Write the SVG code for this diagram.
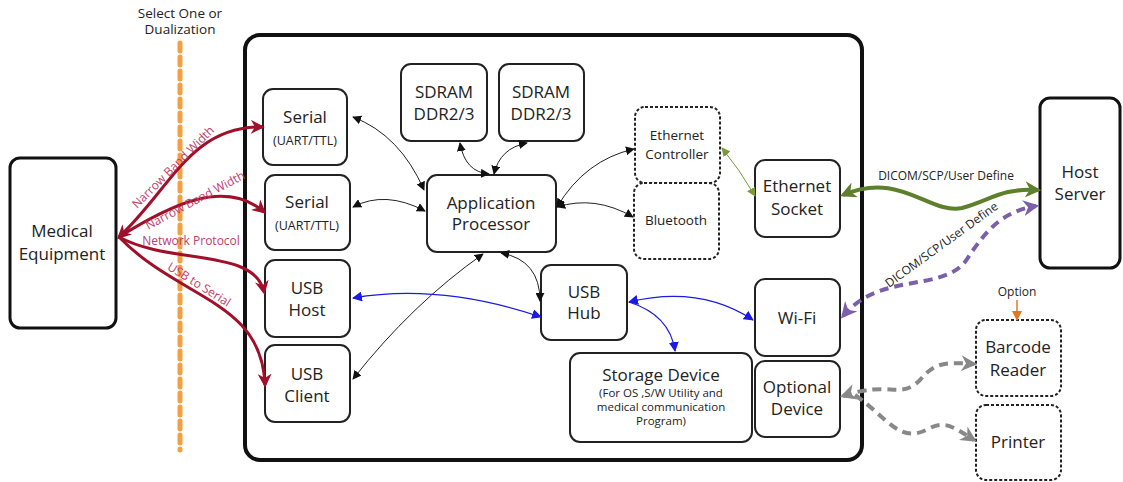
<svg xmlns="http://www.w3.org/2000/svg" width="1123" height="482" viewBox="0 0 1123 482">
<style>
text{font-family:"Open Sans","Noto Sans","Liberation Sans",sans-serif;fill:#222;text-anchor:middle}
.n{fill:#fff;stroke:#222;stroke-width:2}
.d{fill:#fff;stroke:#222;stroke-width:2;stroke-dasharray:3 2}
.t16{font-size:17px}
.t12{font-size:12.5px}
.t11{font-size:11.5px}
.t13{font-size:13.5px}
.blk{fill:none;stroke:#222;stroke-width:1}
.blu{fill:none;stroke:#1a1ae0;stroke-width:1.3}
.red{fill:none;stroke:#a0102a;stroke-width:3}
.lbl{font-size:12px;fill:#c0406a}
</style>
<defs>
<marker id="mk" viewBox="0 0 10 10" refX="9" refY="5" markerWidth="9" markerHeight="9" markerUnits="userSpaceOnUse" orient="auto-start-reverse"><path d="M0,0L10,5L0,10z" fill="#111"/></marker>
<marker id="mb" viewBox="0 0 10 10" refX="9" refY="5" markerWidth="10" markerHeight="10" markerUnits="userSpaceOnUse" orient="auto-start-reverse"><path d="M0,0L10,5L0,10z" fill="#1a1ae0"/></marker>
<marker id="mr" viewBox="0 0 10 10" refX="8" refY="5" markerWidth="14" markerHeight="14" markerUnits="userSpaceOnUse" orient="auto-start-reverse"><path d="M0,0L10,5L0,10L3,5z" fill="#a0102a"/></marker>
<marker id="mg" viewBox="0 0 10 10" refX="9" refY="5" markerWidth="9" markerHeight="9" markerUnits="userSpaceOnUse" orient="auto-start-reverse"><path d="M0,0L10,5L0,10z" fill="#7a9a3a"/></marker>
<marker id="mG" viewBox="0 0 10 10" refX="8" refY="5" markerWidth="16" markerHeight="16" markerUnits="userSpaceOnUse" orient="auto-start-reverse"><path d="M0,0L10,5L0,10L3,5z" fill="#5e7f2c"/></marker>
<marker id="mp" viewBox="0 0 10 10" refX="8" refY="5" markerWidth="16" markerHeight="16" markerUnits="userSpaceOnUse" orient="auto-start-reverse"><path d="M0,0L10,5L0,10L3,5z" fill="#7b5fa8"/></marker>
<marker id="my" viewBox="0 0 10 10" refX="8" refY="5" markerWidth="16" markerHeight="16" markerUnits="userSpaceOnUse" orient="auto-start-reverse"><path d="M0,0L10,5L0,10L3,5z" fill="#888"/></marker>
<marker id="mo" viewBox="0 0 10 10" refX="9" refY="5" markerWidth="10" markerHeight="10" markerUnits="userSpaceOnUse" orient="auto"><path d="M0,0L10,5L0,10z" fill="#e07a20"/></marker>
</defs>

<g id="divider">
<text x="180" y="18" font-size="13.5">Select One or</text>
<text x="180" y="34" font-size="13.5">Dualization</text>
<line x1="180" y1="43" x2="180" y2="450" stroke="#f5a040" stroke-width="5" stroke-dasharray="8 6" stroke-linecap="round"/>
</g>

<g id="main-board"><rect x="245" y="35" width="617" height="425" rx="15" fill="none" stroke="#111" stroke-width="4"/></g>

<g id="medical-equipment"><rect x="10" y="158" width="106" height="170" rx="10" fill="#fff" stroke="#111" stroke-width="3"/>
<text x="62" y="237" font-size="17">Medical</text><text x="62" y="260" font-size="17">Equipment</text></g>

<g id="serial1"><rect class="n" x="263" y="89" width="84" height="76" rx="10"/><text x="305" y="123" class="t16">Serial</text><text x="305" y="145" class="t12">(UART/TTL)</text></g>
<g id="serial2"><rect class="n" x="265" y="175" width="85" height="75" rx="10"/><text x="307" y="208" class="t16">Serial</text><text x="307" y="230" class="t12">(UART/TTL)</text></g>
<g id="usb-host"><rect class="n" x="265" y="260" width="85" height="77" rx="10"/><text x="307" y="294" class="t16">USB</text><text x="307" y="316" class="t16">Host</text></g>
<g id="usb-client"><rect class="n" x="265" y="345" width="85" height="77" rx="10"/><text x="307" y="380" class="t16">USB</text><text x="307" y="402" class="t16">Client</text></g>

<g id="sdram1"><rect class="n" x="401" y="64" width="86" height="77" rx="10"/><text x="444" y="98" class="t16">SDRAM</text><text x="444" y="120" class="t16">DDR2/3</text></g>
<g id="sdram2"><rect class="n" x="499" y="64" width="85" height="77" rx="10"/><text x="541" y="98" class="t16">SDRAM</text><text x="541" y="120" class="t16">DDR2/3</text></g>
<g id="app-processor"><rect class="n" x="427" y="175" width="129" height="77" rx="10"/><text x="491" y="209" class="t16">Application</text><text x="491" y="230" class="t16">Processor</text></g>
<g id="ethernet-controller"><rect class="d" x="635" y="107" width="85" height="76" rx="10"/><text x="677" y="140" class="t13">Ethernet</text><text x="677" y="159" class="t13">Controller</text></g>
<g id="bluetooth"><rect class="d" x="634" y="183" width="85" height="76" rx="10"/><text x="676" y="225" class="t13">Bluetooth</text></g>
<g id="ethernet-socket"><rect class="n" x="755" y="160" width="85" height="77" rx="10"/><text x="797" y="192" class="t16">Ethernet</text><text x="797" y="215" class="t16">Socket</text></g>
<g id="usb-hub"><rect class="n" x="541" y="265" width="86" height="75" rx="10"/><text x="584" y="298" class="t16">USB</text><text x="584" y="319" class="t16">Hub</text></g>
<g id="wifi"><rect class="n" x="755" y="279" width="85" height="77" rx="10"/><text x="797" y="324" class="t16">Wi-Fi</text></g>
<g id="storage"><rect class="n" x="570" y="353" width="182" height="89" rx="10"/><text x="661" y="381" class="t16">Storage Device</text>
<text x="661" y="397" class="t11">(For OS ,S/W Utility and</text><text x="661" y="411" class="t11">medical communication</text><text x="661" y="425" class="t11">Program)</text></g>
<g id="optional-device"><rect class="n" x="755" y="361" width="85" height="76" rx="10"/><text x="797" y="393" class="t16">Optional</text><text x="797" y="415" class="t16">Device</text></g>

<g id="host-server"><rect x="1040" y="98" width="80" height="170" rx="10" fill="#fff" stroke="#111" stroke-width="3"/><text x="1080" y="178" class="t16">Host</text><text x="1080" y="200" class="t16">Server</text></g>
<g id="barcode-reader"><rect class="d" x="976" y="320" width="85" height="76" rx="10"/><text x="1018" y="353" class="t16">Barcode</text><text x="1018" y="376" class="t16">Reader</text></g>
<g id="printer"><rect class="d" x="976" y="405" width="85" height="75" rx="10"/><text x="1018" y="448" class="t16">Printer</text></g>

<g id="connectors">
<path class="blk" d="M353,117 Q400,135 424,190" marker-start="url(#mk)" marker-end="url(#mk)"/>
<path class="blk" d="M353,207 Q385,190 425,211" marker-start="url(#mk)" marker-end="url(#mk)"/>
<path class="blk" d="M460,143 Q465,172 489,174" marker-start="url(#mk)" marker-end="url(#mk)"/>
<path class="blk" d="M527,143 Q500,148 494,174" marker-start="url(#mk)" marker-end="url(#mk)"/>
<path class="blk" d="M557,207 Q585,160 634,149" marker-start="url(#mk)" marker-end="url(#mk)"/>
<path class="blk" d="M557,207 Q595,195 633,217" marker-start="url(#mk)" marker-end="url(#mk)"/>
<path class="blk" d="M483,254 Q412,304 353,379" marker-start="url(#mk)" marker-end="url(#mk)"/>
<path class="blk" d="M501,253 Q540,260 540,301" marker-start="url(#mk)" marker-end="url(#mk)"/>
<path class="blu" d="M353,298 Q440,283 541,317" marker-start="url(#mb)" marker-end="url(#mb)"/>
<path class="blu" d="M629,302 Q700,285 753,320" marker-start="url(#mb)" marker-end="url(#mb)"/>
<path class="blu" d="M629,302 Q670,315 675,351" marker-end="url(#mb)"/>
<path d="M722,148 Q740,170 755,196" fill="none" stroke="#7a9a3a" stroke-width="1" marker-start="url(#mg)" marker-end="url(#mg)"/>
<path d="M843,195 C900,170 930,215 962,208 C992,200 1000,188 1038,190" fill="none" stroke="#5e7f2c" stroke-width="4" marker-start="url(#mG)" marker-end="url(#mG)"/>
<text x="946" y="180" font-size="12" fill="#8a9a50">DICOM/SCP/User Define</text>
<path d="M843,316 C880,272 940,292 965,262 C985,232 1000,212 1036,206" fill="none" stroke="#7b5fa8" stroke-width="4" stroke-dasharray="9 6" marker-start="url(#mp)" marker-end="url(#mp)"/>
<text x="0" y="0" font-size="12" fill="#7b5fa8" transform="translate(944,248) rotate(-36)">DICOM/SCP/User Define</text>
<path d="M843,396 C890,380 900,400 920,380 C935,362 945,362 974,364" fill="none" stroke="#888" stroke-width="4" stroke-dasharray="9 6" marker-start="url(#my)" marker-end="url(#my)"/>
<path d="M855,395 C890,420 900,445 930,428 C945,420 955,428 974,440" fill="none" stroke="#888" stroke-width="4" stroke-dasharray="9 6" marker-end="url(#my)"/>
<text x="1017" y="296" font-size="12" fill="#e07a20">Option</text>
<line x1="1017" y1="300" x2="1017" y2="320" stroke="#e07a20" stroke-width="1.5" marker-end="url(#mo)"/>
<path class="red" d="M119,237 C170,190 190,126 262,127" marker-start="url(#mr)" marker-end="url(#mr)"/>
<path class="red" d="M119,237 C170,205 225,178 264,212" marker-end="url(#mr)"/>
<path class="red" d="M119,237 C170,265 255,248 264,292" marker-end="url(#mr)"/>
<path class="red" d="M119,237 C180,300 262,300 265,385" marker-end="url(#mr)"/>
<text class="lbl" transform="translate(176,170) rotate(-45)">Narrow Band Width</text>
<text class="lbl" transform="translate(197,204) rotate(-28)">Narrow Band Width</text>
<text class="lbl" x="191" y="245">Network Protocol</text>
<text class="lbl" transform="translate(197,288) rotate(32)">USB to Serial</text>
</g>
</svg>
